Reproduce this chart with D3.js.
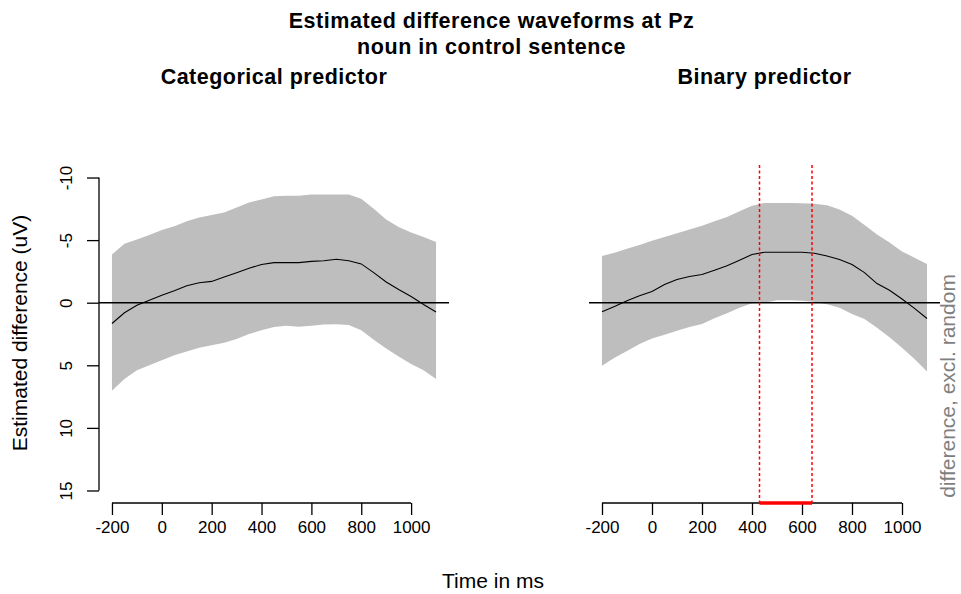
<!DOCTYPE html>
<html><head><meta charset="utf-8">
<script src="https://cdn.jsdelivr.net/npm/d3@7"></script>
<style>body{margin:0;background:#fff}svg{display:block;font-family:"Liberation Sans",Arial,sans-serif}</style>
</head><body><svg id="c" width="961" height="594"></svg>
<script>
const times = [-200,-150,-100,-50,0,50,100,150,200,250,300,350,400,450,500,550,600,650,700,750,800,850,900,950,1000,1050,1100];
const catMean  = [1.66,0.8,0.2,-0.2,-0.6,-0.95,-1.35,-1.6,-1.7,-2.05,-2.4,-2.75,-3.05,-3.2,-3.2,-3.2,-3.3,-3.35,-3.47,-3.35,-3.1,-2.4,-1.66,-1.05,-0.5,0.15,0.75];
const catUpper = [-3.85,-4.7,-5.05,-5.4,-5.8,-6.1,-6.5,-6.8,-7.0,-7.2,-7.6,-8.0,-8.25,-8.5,-8.55,-8.55,-8.65,-8.65,-8.65,-8.65,-8.3,-7.5,-6.65,-6.05,-5.6,-5.25,-4.85];
const catLower = [7.04,6.1,5.4,5.0,4.6,4.2,3.9,3.6,3.4,3.2,2.9,2.5,2.2,1.95,1.85,1.93,1.85,1.75,1.72,1.78,2.2,2.95,3.66,4.3,4.9,5.4,6.1];
const binMean  = [0.73,0.3,-0.15,-0.55,-0.9,-1.45,-1.85,-2.1,-2.25,-2.6,-2.95,-3.4,-3.85,-4.03,-4.03,-4.03,-4.03,-3.95,-3.73,-3.45,-3.05,-2.4,-1.53,-1.0,-0.3,0.45,1.26];
const binUpper = [-3.73,-4.0,-4.3,-4.6,-4.95,-5.25,-5.55,-5.85,-6.15,-6.5,-6.85,-7.3,-7.75,-7.97,-7.97,-7.97,-7.95,-7.9,-7.78,-7.45,-6.95,-6.2,-5.45,-4.8,-4.1,-3.6,-3.1];
const binLower = [5.04,4.4,3.85,3.3,2.86,2.55,2.25,1.95,1.7,1.25,0.85,0.4,0.05,0.0,-0.2,-0.2,-0.15,-0.05,0.12,0.4,0.9,1.3,2.0,2.75,3.6,4.5,5.5];
const sigWindow = [430, 640];
const xTicks = [-200,0,200,400,600,800,1000];
const yTicks = [-10,-5,0,5,10,15];

const svg = d3.select("#c");
const plotTop = 165, plotBottom = 503;
const y = d3.scaleLinear().domain([-11,16]).range([plotTop,plotBottom]);
const panels = [
  {x0:99, x1:449, title:"Categorical predictor", mean:catMean, up:catUpper, lo:catLower, yaxis:true, sig:null},
  {x0:589, x1:940, title:"Binary predictor", mean:binMean, up:binUpper, lo:binLower, yaxis:false, sig:sigWindow}
];
const fmt = d=>d<0?"-"+Math.abs(d):String(d);

svg.append("text").attr("x",491.5).attr("y",28).attr("text-anchor","middle")
  .attr("font-size",21.5).attr("font-weight","bold").attr("letter-spacing",0.55).text("Estimated difference waveforms at Pz");
svg.append("text").attr("x",491.5).attr("y",54).attr("text-anchor","middle")
  .attr("font-size",21.5).attr("font-weight","bold").attr("letter-spacing",0.55).text("noun in control sentence");

panels.forEach(p=>{
  const x = d3.scaleLinear().domain([-252,1152]).range([p.x0,p.x1]);
  const g = svg.append("g");
  const area = d3.area().x((d,i)=>x(times[i])).y0((d,i)=>y(p.up[i])).y1((d,i)=>y(p.lo[i]));
  g.append("path").datum(times).attr("d",area).attr("fill","#bebebe");
  g.append("line").attr("x1",p.x0).attr("x2",p.x1).attr("y1",y(0)).attr("y2",y(0)).attr("stroke","#000").attr("stroke-width",1.5);
  const line = d3.line().x((d,i)=>x(times[i])).y(d=>y(d));
  g.append("path").datum(p.mean).attr("d",line).attr("fill","none").attr("stroke","#000").attr("stroke-width",1.1);
  const xa = g.append("g").attr("transform",`translate(0,${plotBottom})`)
    .call(d3.axisBottom(x).tickValues(xTicks).tickSize(12).tickPadding(6).tickFormat(fmt));
  xa.select(".domain").attr("d",`M${x(-200)},0H${x(1000)}`).attr("stroke-width",1.3);
  xa.selectAll(".tick line").attr("stroke-width",1.3);
  xa.selectAll("text").attr("font-size",17).attr("font-family","Liberation Sans, Arial, sans-serif").attr("fill","#000");
  if(p.yaxis){
    const ya = g.append("g").attr("transform",`translate(${p.x0},0)`)
      .call(d3.axisLeft(y).tickValues(yTicks).tickSize(12).tickFormat(fmt));
    ya.select(".domain").attr("d",`M0,${y(-10)}V${y(15)}`).attr("stroke-width",1.3);
    ya.selectAll(".tick line").attr("stroke-width",1.3);
    ya.selectAll("text").attr("font-size",17).attr("font-family","Liberation Sans, Arial, sans-serif").attr("fill","#000")
      .attr("x",0).attr("dy",0).attr("text-anchor","middle").attr("transform","translate(-27,0) rotate(-90)");
  }
  if(p.sig){
    p.sig.forEach(t=>{
      g.append("line").attr("x1",x(t)).attr("x2",x(t)).attr("y1",plotTop).attr("y2",plotBottom)
        .attr("stroke","red").attr("stroke-width",1.5).attr("stroke-dasharray","3,2.5");
    });
    g.append("line").attr("x1",x(p.sig[0])).attr("x2",x(p.sig[1])).attr("y1",plotBottom).attr("y2",plotBottom)
      .attr("stroke","red").attr("stroke-width",3.5);
  }
  svg.append("text").attr("x",(p.x0+p.x1)/2).attr("y",84).attr("text-anchor","middle")
    .attr("font-size",21.5).attr("font-weight","bold").attr("letter-spacing",0.5).text(p.title);
});

svg.append("text").attr("transform","translate(27,333) rotate(-90)").attr("text-anchor","middle")
  .attr("font-size",21).text("Estimated difference (uV)");
svg.append("text").attr("x",493).attr("y",588).attr("text-anchor","middle").attr("font-size",21).text("Time in ms");
svg.append("text").attr("transform","translate(955,386) rotate(-90)").attr("text-anchor","middle")
  .attr("font-size",21).attr("fill","#7f7f7f").text("difference, excl. random");
</script></body></html>
